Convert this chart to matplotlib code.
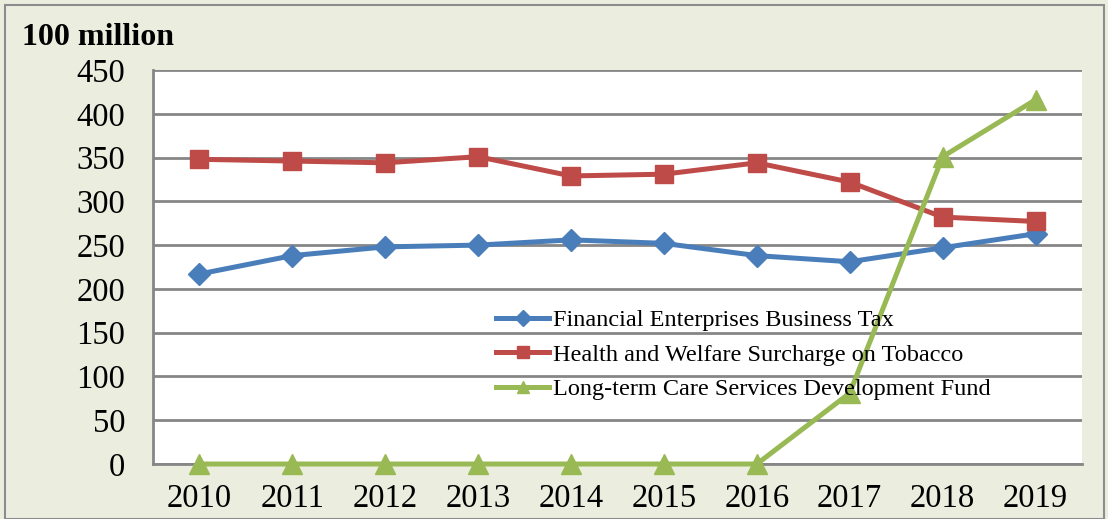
import matplotlib
matplotlib.use("Agg")
import matplotlib.pyplot as plt
from matplotlib.patches import Rectangle

years = ["2010", "2011", "2012", "2013", "2014", "2015", "2016", "2017", "2018", "2019"]
financial_tax = [217, 238, 248, 250, 256, 252, 238, 231, 247, 263]
tobacco_surcharge = [348, 346, 344, 351, 329, 331, 344, 322, 282, 277]
ltc_fund = [0, 0, 0, 0, 0, 0, 0, 81, 351, 416]
series_names = ["Financial Enterprises Business Tax",
                "Health and Welfare Surcharge on Tobacco",
                "Long-term Care Services Development Fund"]
y_ticks = [0, 50, 100, 150, 200, 250, 300, 350, 400, 450]
unit_label = "100 million"

plt.rcParams['font.family'] = ['Liberation Serif', 'DejaVu Serif']

W, H = 1108, 519
fig = plt.figure(figsize=(W / 100, H / 100), dpi=100)
bg = "#EBEEDF"
fig.patch.set_facecolor(bg)
fig.patches.append(Rectangle((5 / W, 0), (1104 - 5) / W, (H - 5) / H, transform=fig.transFigure,
                             fill=False, edgecolor="#8C8C8C", linewidth=1.5))

ax = fig.add_axes([153 / W, (H - 464) / H, (1082 - 153) / W, (464 - 70) / H])
ax.set_facecolor("white")
x = list(range(len(years)))
lw = 3.6
ax.plot(x, financial_tax, color="#4A7EBB", lw=lw, marker="D", ms=11, label=series_names[0], clip_on=False, zorder=3)
ax.plot(x, tobacco_surcharge, color="#BE4B48", lw=lw, marker="s", ms=13, label=series_names[1], clip_on=False, zorder=3)
ax.plot(x, ltc_fund, color="#98B954", lw=lw, marker="^", ms=14, label=series_names[2], clip_on=False, zorder=4)

ax.set_xlim(-0.5, len(years) - 0.5)
ax.set_ylim(0, 450)
ax.set_yticks(y_ticks)
ax.set_xticks(x)
ax.set_xticklabels(years)
ax.tick_params(axis="both", length=0, labelsize=23.5)
ax.tick_params(axis="y", pad=20)
ax.tick_params(axis="x", pad=14)
ax.grid(axis="y", color="#868686", linewidth=2)
ax.set_axisbelow(True)
for s in ["right", "top"]:
    ax.spines[s].set_visible(False)
for s in ["left", "bottom"]:
    ax.spines[s].set_color("#868686")
    ax.spines[s].set_linewidth(2)

fig.text(22 / W, 1 - 45 / H, unit_label, fontsize=23, fontweight="bold", ha="left", va="baseline")

leg = ax.legend(loc="upper left", bbox_to_anchor=(496 / W, 1 - 309 / H), bbox_transform=fig.transFigure,
                frameon=False, fontsize=17.5, handlelength=2.2, handletextpad=0.15, labelspacing=0.52,
                borderaxespad=0, borderpad=0)
for h in leg.legend_handles:
    h.set_markersize(8)

fig.savefig("out.png", dpi=100, facecolor=bg)
